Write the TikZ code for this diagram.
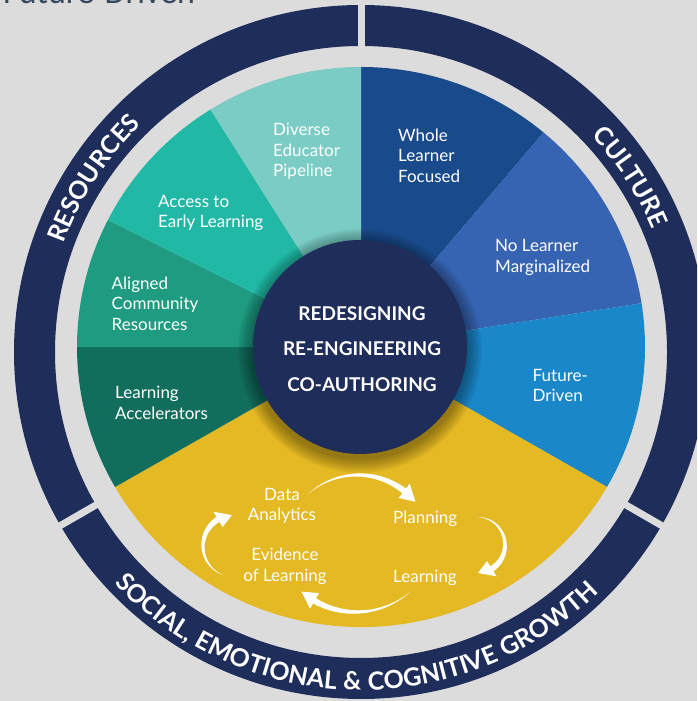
\documentclass[tikz,border=0pt]{standalone}
\usepackage{fontspec}
\setmainfont{Lato}
\newfontfamily\titlefont{Carlito}
\usetikzlibrary{decorations.text}
\definecolor{bg}{HTML}{DCDCDC}
\definecolor{navy}{HTML}{1E2D5A}
\definecolor{cWhole}{HTML}{194B8C}
\definecolor{cNoL}{HTML}{3764B2}
\definecolor{cFut}{HTML}{1A87C9}
\definecolor{cYel}{HTML}{E4B923}
\definecolor{cAcc}{HTML}{126E5C}
\definecolor{cAli}{HTML}{1E9B80}
\definecolor{cEarly}{HTML}{21B9A5}
\definecolor{cDiv}{HTML}{7ACCC5}
\definecolor{cTitle}{HTML}{34495E}
\newcommand\lblfont{\fontsize{17}{20.5}\selectfont}
\newcommand\corefont{\fontsize{19}{35.3}\selectfont\bfseries}
\newcommand\ringfont{\fontsize{25}{25}\selectfont\bfseries\addfontfeature{LetterSpace=3}}
\newcommand\sector[3]{\fill[#1] (pc) -- ++(#2:284 and 280) arc[start angle=#2, end angle=#3, x radius=284, y radius=280] -- cycle;}
\newcommand\taparrow[8]{%
  \pgfmathsetmacro\tA{#4}\pgfmathsetmacro\tT{#5}\pgfmathsetmacro\tB{#5+#7}%
  \fill[white] plot[domain=\tA:\tB, samples=30, variable=\ang]
    ({#1+(#3+#6/2*(\ang-\tA)/(\tB-\tA))*cos(\ang)},{#2+(#3+#6/2*(\ang-\tA)/(\tB-\tA))*sin(\ang)})
    -- ({#1+(#3+#8)*cos(\tB)},{#2+(#3+#8)*sin(\tB)})
    -- ({#1+#3*cos(\tT)},{#2+#3*sin(\tT)})
    -- ({#1+(#3-#8)*cos(\tB)},{#2+(#3-#8)*sin(\tB)})
    -- plot[domain=\tB:\tA, samples=30, variable=\ang]
    ({#1+(#3-#6/2*(\ang-\tA)/(\tB-\tA))*cos(\ang)},{#2+(#3-#6/2*(\ang-\tA)/(\tB-\tA))*sin(\ang)})
    -- cycle;}
\begin{document}
\begin{tikzpicture}[x=1pt,y=1pt,
  lbl/.style={text=white, font=\lblfont, align=left, anchor=north west, inner sep=0},
  clbl/.style={text=white, font=\lblfont, align=center, anchor=north, inner sep=0},
  ringtext/.style={decorate, decoration={text along path, text align=center, text color=white, text={|\ringfont|#1}}}]
\useasboundingbox (0,0) rectangle (697,701);
\clip (0,0) rectangle (697,701);
\fill[bg] (0,0) rectangle (697,701);
\coordinate (rc) at (361,349);
\coordinate (pc) at (361,354);
\coordinate (cc) at (360,354);
\coordinate (ccs) at (360,350);
\coordinate (ct) at (362,352);
% outer ring
\fill[navy, even odd rule] (rc) circle[radius=347] (rc) circle[radius=306];
\foreach \a in {90,210,330} \draw[bg, line width=7] (rc) ++(\a:300) -- ++(\a:55);
% pie
\sector{cWhole}{50}{90}
\sector{cNoL}{9}{50}
\sector{cFut}{-30}{9}
\sector{cYel}{210}{330}
\sector{cAcc}{180}{210}
\sector{cAli}{153}{180}
\sector{cEarly}{122}{153}
\sector{cDiv}{90}{122}
% shadow and core
\foreach \i in {1,...,10} \fill[black, opacity=0.04] (ccs) circle[radius={107+\i*1.5}];
\fill[navy] (cc) circle[radius=107];
\node[text=white, font=\corefont, align=center, inner sep=0] (core) at (ct) {REDESIGNING\\RE-ENGINEERING\\CO-AUTHORING};
% labels
\node[lbl] (div) at (273,577.7) {Diverse\\Educator\\Pipeline};
\node[lbl] (whole) at (398,572.5) {Whole\\Learner\\Focused};
\node[lbl] (nol) at (495,461.7) {No Learner\\Marginalized};
\node[lbl] (fut) at (532.5,332) {Future-\\Driven};
\node[lbl] (early) at (158,506) {Access to\\Early Learning};
\node[lbl] (ali) at (111.5,424.3) {Aligned\\Community\\Resources};
\node[lbl] (acc) at (115,315) {Learning\\Accelerators};
\node[clbl] (data) at (282,213) {Data\\Analytics};
\node[lbl] (plan) at (393,190.3) {Planning};
\node[clbl] (evid) at (285,153) {Evidence\\of Learning};
\node[lbl] (learn) at (393,131) {Learning};
% cycle arrows
\taparrow{358}{151}{75}{132}{40}{6}{12}{9}
\taparrow{477}{156}{28}{90}{-88}{6}{30}{9}
\taparrow{356}{172}{83}{-49}{-131}{6}{11}{9}
\taparrow{234}{155}{31}{249}{94}{6}{27}{9}
% ring texts
\path[ringtext={CULTURE}] (rc) ++(63:316) arc[start angle=63, end angle=3, radius=316];
\path[ringtext={RESOURCES}] (rc) ++(187:316) arc[start angle=187, end angle=107, radius=316];
\path[ringtext={SOCIAL, EMOTIONAL {\&} COGNITIVE GROWTH}] (rc) ++(199:338) arc[start angle=199, end angle=339, radius=338];
% clipped title
\node[font=\titlefont\fontsize{34}{34}\selectfont, text=cTitle, anchor=base west, inner sep=0] (title) at (3,697) {Future-Driven};
\end{tikzpicture}
\end{document}
